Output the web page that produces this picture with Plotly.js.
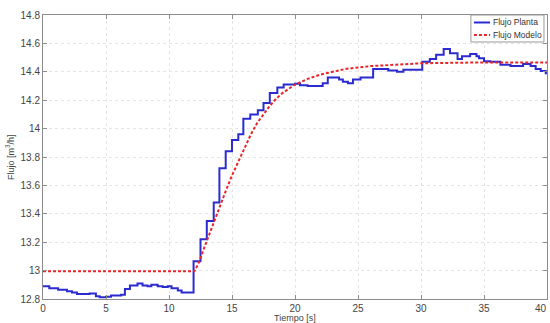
<!DOCTYPE html>
<html>
<head>
<meta charset="utf-8">
<script src="https://cdn.plot.ly/plotly-3.0.1.min.js"></script>
<style>
  html, body { margin: 0; padding: 0; background: #fff; }
  #chart { width: 550px; height: 323px; }
</style>
</head>
<body>
<div id="chart"></div>
<script>
// Measured plant flow (sampled, stepwise) [s], [m3/h]
const plantTime = [0, 0.5, 1.2, 1.9, 2.3, 2.7, 3.7, 4.2, 4.5, 5.0, 5.4, 6.2, 6.5, 6.9, 7.5, 7.9,
  8.3, 8.6, 9.1, 9.5, 9.9, 10.2, 10.7, 11.0, 11.95, 12.5, 13.0, 13.55, 14.0, 14.5, 15.0, 15.5,
  15.9, 16.45, 17.05, 17.5, 18.0, 18.6, 19.1, 20.0, 20.4, 21.0, 21.7, 22.2, 22.6, 23.5, 23.8,
  24.2, 24.6, 25.2, 26.2, 27.4, 28.1, 28.6, 30.1, 30.7, 31.2, 31.8, 32.3, 32.9, 33.25, 33.9,
  34.4, 34.6, 35.0, 35.5, 36.3, 37.1, 38.1, 38.7, 39.1, 39.5, 39.9, 40];
const plantFlow = [12.89, 12.875, 12.865, 12.855, 12.845, 12.835, 12.838, 12.82, 12.812, 12.815,
  12.825, 12.83, 12.87, 12.895, 12.91, 12.895, 12.89, 12.90, 12.89, 12.885, 12.89, 12.875, 12.86,
  12.845, 13.065, 13.22, 13.35, 13.48, 13.72, 13.84, 13.92, 13.96, 14.07, 14.10, 14.13, 14.18,
  14.25, 14.29, 14.31, 14.315, 14.305, 14.30, 14.30, 14.32, 14.36, 14.345, 14.33, 14.32, 14.345,
  14.36, 14.42, 14.41, 14.40, 14.415, 14.47, 14.49, 14.52, 14.56, 14.53, 14.49, 14.51, 14.525,
  14.51, 14.495, 14.475, 14.47, 14.45, 14.44, 14.455, 14.44, 14.42, 14.405, 14.39, 14.39];

// Model response
const modelTime = [0, 12, 12.25, 12.5, 12.75, 13, 13.5, 14, 14.5, 15, 15.5, 16, 16.5, 17, 17.5,
  18, 18.5, 19, 19.5, 20, 21, 22, 23, 24, 25, 26, 28, 30, 34, 40];
const modelFlow = [12.995, 12.995, 13.035, 13.085, 13.15, 13.21, 13.33, 13.45, 13.56, 13.67,
  13.77, 13.87, 13.96, 14.04, 14.10, 14.16, 14.21, 14.25, 14.28, 14.31, 14.35, 14.38, 14.40,
  14.42, 14.43, 14.44, 14.45, 14.46, 14.465, 14.465];

const xTicks = [0, 5, 10, 15, 20, 25, 30, 35, 40];
const yTicks = [12.8, 13, 13.2, 13.4, 13.6, 13.8, 14, 14.2, 14.4, 14.6, 14.8];

const seriesNames = ['Flujo Planta', 'Flujo Modelo'];
const seriesColors = ['#2b2bd0', '#e8262a'];
const modelDash = '3px,2px';

const font = 'Liberation Sans, Arial, sans-serif';
const textColor = '#444';

const traces = [
  {
    x: plantTime, y: plantFlow, name: seriesNames[0], type: 'scatter', mode: 'lines',
    line: { color: seriesColors[0], width: 2, shape: 'hv' }
  },
  {
    x: modelTime, y: modelFlow, name: seriesNames[1], type: 'scatter', mode: 'lines',
    line: { color: seriesColors[1], width: 2, dash: modelDash }
  }
];

const axisCommon = {
  showline: true, mirror: 'ticks', linecolor: '#8c8c8c', linewidth: 1,
  ticks: 'inside', ticklen: 4, tickcolor: '#8c8c8c',
  showgrid: true, gridcolor: '#e4e4e4', griddash: 'dot', gridwidth: 1,
  zeroline: false, tickfont: { family: font, size: 10, color: textColor }
};

// Compact boxed legend in the upper-right corner of the axes
const legendBox = { x0: 0.849, x1: 0.994, y0: 0.905, y1: 1.0 };
const legendRows = [0.9736, 0.9296];
const legendShapes = [
  { type: 'rect', xref: 'paper', yref: 'paper', x0: legendBox.x0, x1: legendBox.x1,
    y0: legendBox.y0, y1: legendBox.y1, fillcolor: '#fff', line: { color: '#9a9a9a', width: 1 } }
].concat(seriesNames.map((n, i) => ({
  type: 'line', xref: 'paper', yref: 'paper', x0: 0.855, x1: 0.887,
  y0: legendRows[i], y1: legendRows[i],
  line: { color: seriesColors[i], width: 2, dash: i === 1 ? modelDash : 'solid' }
})));
const legendLabels = seriesNames.map((n, i) => ({
  text: n, xref: 'paper', yref: 'paper', x: 0.889, y: legendRows[i],
  xanchor: 'left', yanchor: 'middle', showarrow: false,
  font: { family: font, size: 8.5, color: '#333' }
}));

const layout = {
  width: 550, height: 323,
  margin: { l: 43, r: 3, t: 15, b: 24 },
  paper_bgcolor: '#fff', plot_bgcolor: '#fff',
  showlegend: false,
  xaxis: Object.assign({}, axisCommon, {
    range: [0, 40], tickvals: xTicks, ticklabelstandoff: 0
  }),
  yaxis: Object.assign({}, axisCommon, {
    range: [12.8, 14.8], tickvals: yTicks, ticklabelstandoff: 0
  }),
  shapes: legendShapes,
  annotations: [
    // last x tick label, pulled in so it stays inside the figure's right edge
    { text: String(xTicks[xTicks.length - 1]), xref: 'x', yref: 'paper', x: xTicks[xTicks.length - 1],
      y: 0, yshift: -2, xanchor: 'right', xshift: 2, yanchor: 'top', showarrow: false,
      font: { family: font, size: 10, color: textColor } },
    { text: 'Tiempo [s]', xref: 'paper', yref: 'paper', x: 0.5, y: 0, yshift: -18.5,
      xanchor: 'center', yanchor: 'middle', showarrow: false,
      font: { family: font, size: 9, color: textColor } },
    { text: 'Flujo [m<sup>3</sup>/h]', xref: 'paper', yref: 'paper', x: 0, xshift: -33, y: 0.5,
      xanchor: 'center', yanchor: 'middle', textangle: -90, showarrow: false,
      font: { family: font, size: 9, color: textColor } }
  ].concat(legendLabels)
};

Plotly.newPlot('chart', traces, layout, { displayModeBar: false, staticPlot: true });
</script>
</body>
</html>
